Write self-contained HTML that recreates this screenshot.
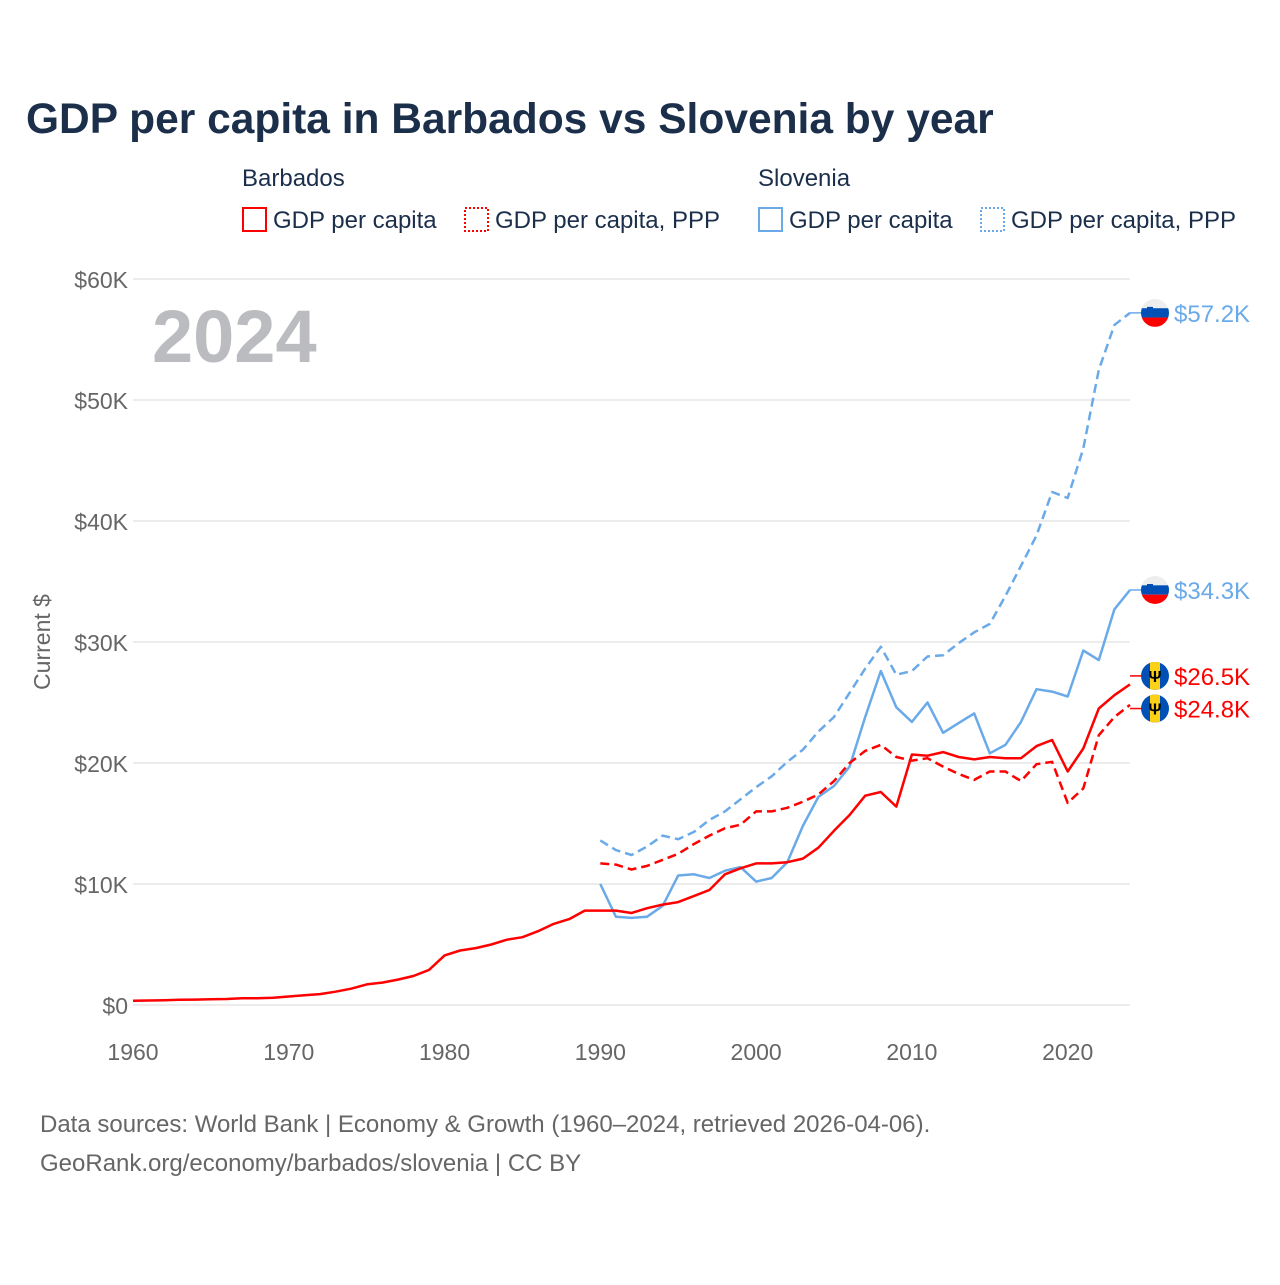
<!DOCTYPE html>
<html><head><meta charset="utf-8"><style>
body{margin:0;background:#fff;font-family:"Liberation Sans",sans-serif}
svg text{font-family:"Liberation Sans",sans-serif}
</style></head><body>
<svg id="chart" width="1280" height="1280" viewBox="0 0 1280 1280" xmlns="http://www.w3.org/2000/svg">
<text x="26" y="133" font-size="42.5" font-weight="bold" fill="#1b2f4b">GDP per capita in Barbados vs Slovenia by year</text>
<g font-size="24" fill="#1b2f4b">
<text x="242" y="186">Barbados</text>
<text x="758" y="186">Slovenia</text>
<g><rect x="243" y="208" width="23" height="23" fill="none" stroke="#f00" stroke-width="2"/><text x="273" y="228">GDP per capita</text></g>
<g><rect x="465" y="208" width="23" height="23" fill="none" stroke="#f00" stroke-width="2" stroke-dasharray="2,2"/><text x="495" y="228">GDP per capita, PPP</text></g>
<g><rect x="759" y="208" width="23" height="23" fill="none" stroke="#6aaae8" stroke-width="2"/><text x="789" y="228">GDP per capita</text></g>
<g><rect x="981" y="208" width="23" height="23" fill="none" stroke="#6aaae8" stroke-width="2" stroke-dasharray="2,2"/><text x="1011" y="228">GDP per capita, PPP</text></g>
</g>
<text x="152" y="362" font-size="74" font-weight="bold" fill="#bbbcc0">2024</text>
<text transform="translate(50,642) rotate(-90)" text-anchor="middle" font-size="23" fill="#666">Current $</text>
<g id="grid"></g><g id="yticks"></g><g id="xticks"></g><g id="series"></g><g id="labels"></g>
<text x="40" y="1132" font-size="24" fill="#666">Data sources: World Bank | Economy &amp; Growth (1960–2024, retrieved 2026-04-06).</text>
<text x="40" y="1171" font-size="24" fill="#666">GeoRank.org/economy/barbados/slovenia | CC BY</text>
</svg>
<script>
const yTickValues=[0,10,20,30,40,50,60];
const yTickLabels=["$0","$10K","$20K","$30K","$40K","$50K","$60K"];
const xTickValues=[1960,1970,1980,1990,2000,2010,2020];
const barbadosGdp=[0.35,0.37,0.4,0.43,0.45,0.47,0.5,0.55,0.55,0.6,0.7,0.8,0.9,1.1,1.35,1.7,1.85,2.1,2.4,2.9,4.1,4.5,4.7,5.0,5.4,5.6,6.1,6.7,7.1,7.8,7.8,7.8,7.6,8.0,8.3,8.5,9.0,9.5,10.8,11.3,11.7,11.7,11.8,12.1,13.0,14.4,15.7,17.3,17.6,16.4,20.7,20.6,20.9,20.5,20.3,20.5,20.4,20.4,21.4,21.9,19.3,21.2,24.5,25.6,26.5];
const barbadosPpp=[11.7,11.6,11.2,11.5,12.0,12.5,13.3,14.0,14.6,14.9,16.0,16.0,16.3,16.8,17.4,18.5,20.0,21.0,21.5,20.5,20.2,20.4,19.7,19.1,18.6,19.3,19.3,18.5,19.9,20.1,16.7,17.9,22.3,23.8,24.8];
const sloveniaGdp=[10.0,7.3,7.2,7.3,8.2,10.7,10.8,10.5,11.1,11.4,10.2,10.5,11.8,14.8,17.2,18.1,19.7,23.8,27.6,24.6,23.4,25.0,22.5,23.3,24.1,20.8,21.5,23.4,26.1,25.9,25.5,29.3,28.5,32.7,34.3];
const sloveniaPpp=[13.6,12.8,12.4,13.1,14.0,13.7,14.3,15.3,16.0,17.0,18.0,18.9,20.1,21.1,22.6,23.8,25.8,27.8,29.6,27.3,27.6,28.8,28.9,29.9,30.8,31.5,33.8,36.3,38.8,42.4,41.9,46.0,52.5,56.2,57.2];
const NS="http://www.w3.org/2000/svg";
const xS=yr=>133+(yr-1960)*(1130-133)/64;
const yS=v=>1005-v*(1005-279)/60;
function mk(tag,attrs,parent){const e=document.createElementNS(NS,tag);for(const k in attrs)e.setAttribute(k,attrs[k]);parent.appendChild(e);return e;}
const grid=document.getElementById('grid'),yt=document.getElementById('yticks'),xt=document.getElementById('xticks');
yTickValues.forEach((v,i)=>{
 const l=mk('line',{x1:133,x2:1130,y1:yS(v),y2:yS(v),stroke:'#e6e6e6','stroke-width':1.5},grid);
 
 
 const t=mk('text',{x:128,y:yS(v)+9,'text-anchor':'end','font-size':23,fill:'#666'},yt);
 t.textContent=yTickLabels[i];
 
 
});
xTickValues.forEach(v=>{
 const t=mk('text',{x:xS(v),y:1060,'text-anchor':'middle','font-size':23,fill:'#666'},xt);
 t.textContent=v;
 
 
});
const ser=document.getElementById('series');
function line(data,start,color,dash,name){
 const d=data.map((v,i)=>(i?'L':'M')+xS(start+i).toFixed(1)+','+yS(v).toFixed(1)).join(' ');
 const p=mk('path',{d:d,fill:'none',stroke:color,'stroke-width':2.5,'stroke-linejoin':'round'},ser);
 if(dash)p.setAttribute('stroke-dasharray',dash);
 
 
}
line(sloveniaPpp,1990,'#6aaae8','9,5','line-slovenia-ppp');
line(sloveniaGdp,1990,'#6aaae8',null,'line-slovenia-gdp');
line(barbadosPpp,1990,'#f00','9,5','line-barbados-ppp');
line(barbadosGdp,1960,'#f00',null,'line-barbados-gdp');
const lab=document.getElementById('labels');
let cid=0;
function endLabel(val,off,color,flag,name){
 const y=yS(val+off);
 const g=mk('g',{},lab);
 
 
 mk('line',{x1:1130,x2:1142,y1:y,y2:y,stroke:color,'stroke-width':1.5},g);
 const cx=1155,r=14;
 const id='fc'+(cid++);
 const cp=mk('clipPath',{id:id},g);
 mk('circle',{cx:cx,cy:y,r:r},cp);
 const f=mk('g',{'clip-path':'url(#'+id+')'},g);
 if(flag==='si'){
  mk('rect',{x:cx-r,y:y-r,width:2*r,height:2*r/3,fill:'#eee'},f);
  mk('rect',{x:cx-r,y:y-r/3,width:2*r,height:2*r/3,fill:'#0050b5'},f);
  mk('rect',{x:cx-r,y:y+r/3,width:2*r,height:2*r/3,fill:'#f00'},f);
  mk('path',{d:`M${cx-8},${y-6} h6 v5 a3,3 0 0 1 -6,0z`,fill:'#0050b5'},f);
 }else{
  mk('rect',{x:cx-r,y:y-r,width:2*r,height:2*r,fill:'#0050b5'},f);
  mk('rect',{x:cx-5,y:y-r,width:10,height:2*r,fill:'#fcd116'},f);
  const t=mk('text',{x:cx,y:y+6,'text-anchor':'middle','font-size':16,'font-weight':'bold',fill:'#000'},f);t.textContent='Ψ';
 }
 const t=mk('text',{x:1174,y:y+9,'font-size':24,fill:color},g);
 t.textContent='$'+val.toFixed(1)+'K';
}
endLabel(sloveniaPpp[sloveniaPpp.length-1],0,'#6aaae8','si','end-label-slovenia-ppp');
endLabel(sloveniaGdp[sloveniaGdp.length-1],0,'#6aaae8','si','end-label-slovenia-gdp');
endLabel(barbadosGdp[barbadosGdp.length-1],0.7,'#f00','bb','end-label-barbados-gdp');
endLabel(barbadosPpp[barbadosPpp.length-1],-0.3,'#f00','bb','end-label-barbados-ppp');
</script>
</body></html>
